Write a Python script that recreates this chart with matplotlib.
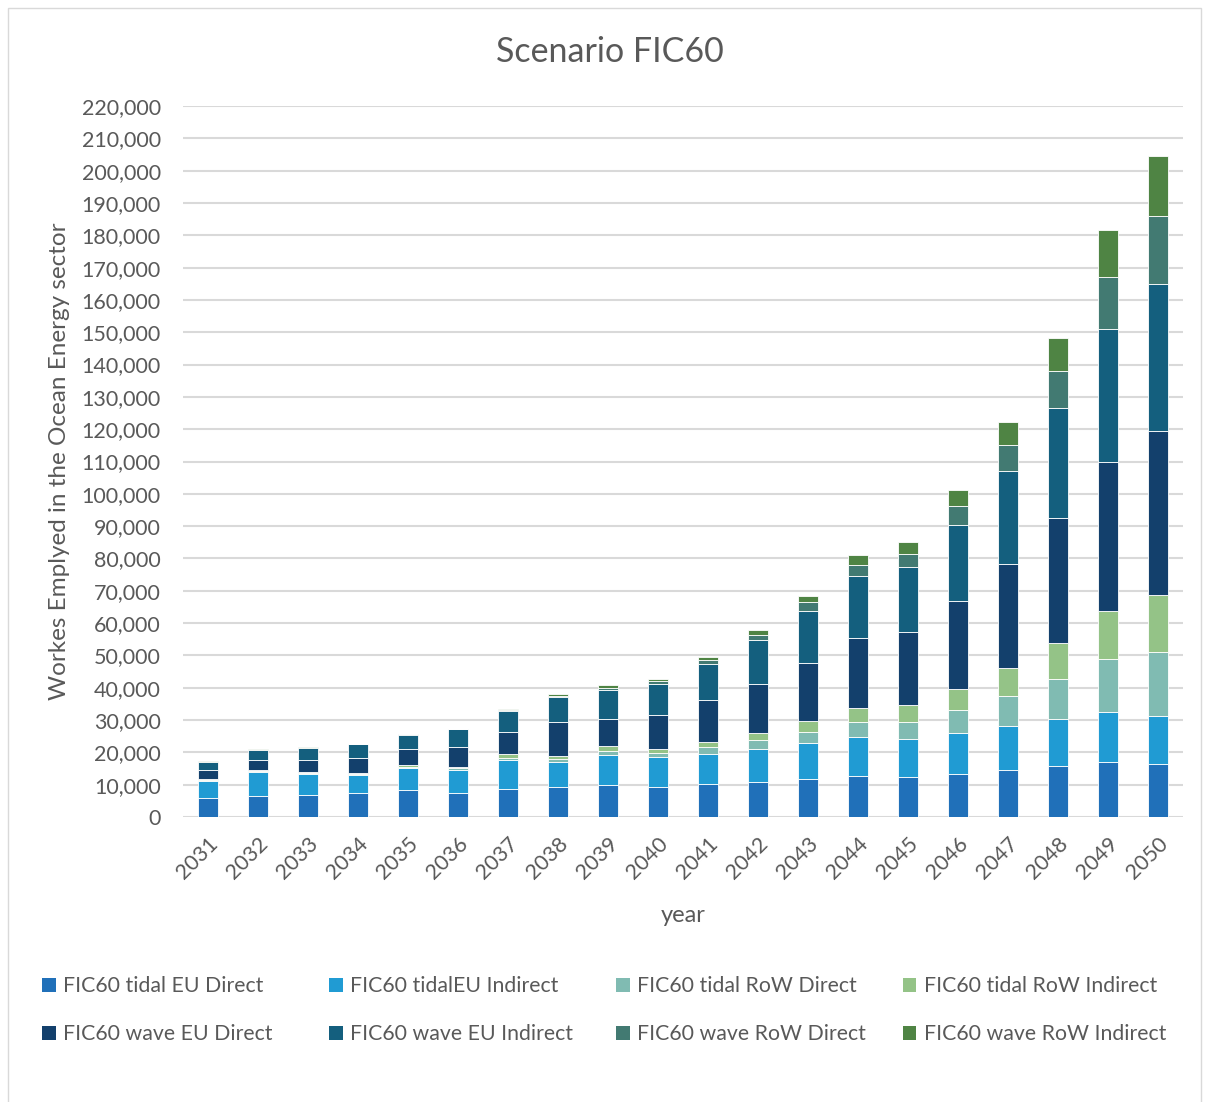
import matplotlib.pyplot as plt
import numpy as np
from matplotlib.ticker import FuncFormatter
from matplotlib.patches import Patch, Rectangle

plt.rcParams['font.family'] = ['Lato', 'DejaVu Sans']

# data (workers)
years = [str(y) for y in range(2031, 2051)]

tidal_eu_direct = [5900, 6500, 6900, 7500, 8400, 7300, 8600, 9300, 10000, 9300,
                   10200, 10800, 11900, 12800, 12500, 13400, 14600, 15700, 16900, 16400]
tidal_eu_indirect = [5400, 7500, 6500, 5600, 6700, 7300, 8900, 7600, 9200, 9200,
                     9200, 10200, 11000, 12000, 11500, 12500, 13500, 14600, 15600, 15000]
tidal_row_direct = [200, 200, 200, 200, 400, 500, 800, 1000, 1300, 1300,
                    2300, 2900, 3400, 4600, 5400, 7200, 9300, 12400, 16400, 19600]
tidal_row_indirect = [200, 300, 300, 300, 500, 500, 1100, 900, 1600, 1400,
                      1600, 2200, 3300, 4200, 5200, 6500, 8600, 11300, 15000, 17700]
wave_eu_direct = [2700, 3100, 3700, 4600, 4900, 6000, 6900, 10600, 8300, 10500,
                  12800, 15100, 18200, 21800, 22500, 27100, 32400, 38500, 46000, 50800]
wave_eu_indirect = [2600, 3100, 3800, 4300, 4600, 5500, 6400, 7700, 8800, 9600,
                    11200, 13600, 16100, 19300, 20300, 23700, 28600, 34100, 41100, 45500]
wave_row_direct = [100, 100, 100, 100, 100, 100, 500, 500, 800, 800,
                   1200, 1500, 2500, 3400, 4000, 5900, 8000, 11500, 16100, 20900]
wave_row_indirect = [100, 100, 100, 100, 100, 100, 300, 400, 700, 700,
                     900, 1600, 2000, 3000, 3600, 5000, 7300, 10100, 14500, 18700]

series = [
    ("FIC60 tidal EU Direct", tidal_eu_direct, "#2070b9"),
    ("FIC60 tidalEU Indirect", tidal_eu_indirect, "#209bd3"),
    ("FIC60 tidal RoW Direct", tidal_row_direct, "#80bbb2"),
    ("FIC60 tidal RoW Indirect", tidal_row_indirect, "#94c387"),
    ("FIC60 wave EU Direct", wave_eu_direct, "#13406c"),
    ("FIC60 wave EU Indirect", wave_eu_indirect, "#145f7e"),
    ("FIC60 wave RoW Direct", wave_row_direct, "#427a72"),
    ("FIC60 wave RoW Indirect", wave_row_indirect, "#4f8444"),
]

grey = "#595959"

fig = plt.figure(figsize=(12.05, 11.02), dpi=100)
ax = fig.add_axes([0.1519, 0.2586, 0.8299, 0.6452])

x = np.arange(len(years))
bottom = np.zeros(len(years))
for name, vals, col in series:
    ax.bar(x, vals, 0.4, bottom=bottom, color=col, edgecolor="#ffffff",
           linewidth=0.6, zorder=3, label=name)
    bottom += np.array(vals)

ax.set_xlim(-0.5, len(years) - 0.5)
ax.set_ylim(0, 220000)
ax.set_yticks(np.arange(0, 220001, 10000))
ax.yaxis.set_major_formatter(FuncFormatter(lambda v, p: f"{int(v):,}"))
ax.set_xticks(x)
ax.set_xticklabels(years, rotation=45, ha="right", rotation_mode="anchor")
ax.tick_params(axis="both", length=0, labelsize=15.5, colors=grey)
ax.tick_params(axis="y", pad=16)
ax.tick_params(axis="x", pad=12)
ax.grid(axis="y", color="#d9d9d9", linewidth=1.5, zorder=0)
for s in ax.spines.values():
    s.set_visible(False)

ax.set_xlabel("year", fontsize=17, color=grey, labelpad=16)
ax.set_ylabel("Workes Emplyed in the Ocean Energy sector", fontsize=17.5,
              color=grey, labelpad=8)
fig.text(0.506, 0.953, "Scenario FIC60", fontsize=24.5, color=grey,
         ha="center", va="center")

# legend: 4 evenly spaced columns, tidal on top row, wave below
col_x = [0.035, 0.273, 0.511, 0.749]
for k in range(4):
    hs = [Patch(facecolor=series[k][2]), Patch(facecolor=series[k + 4][2])]
    labs = [series[k][0], series[k + 4][0]]
    leg = fig.legend(hs, labs, loc="upper left", bbox_to_anchor=(col_x[k], 0.114),
                     frameon=False, fontsize=15.3, handlelength=0.65, handleheight=0.65,
                     handletextpad=0.35, labelspacing=1.32, borderpad=0,
                     borderaxespad=0)
    for t in leg.get_texts():
        t.set_color(grey)

# chart border
fig.patches.append(Rectangle((0.007, -0.01), 0.99, 1.003, transform=fig.transFigure,
                             fill=False, edgecolor="#d9d9d9", linewidth=1))

fig.savefig("out.png", dpi=100)
